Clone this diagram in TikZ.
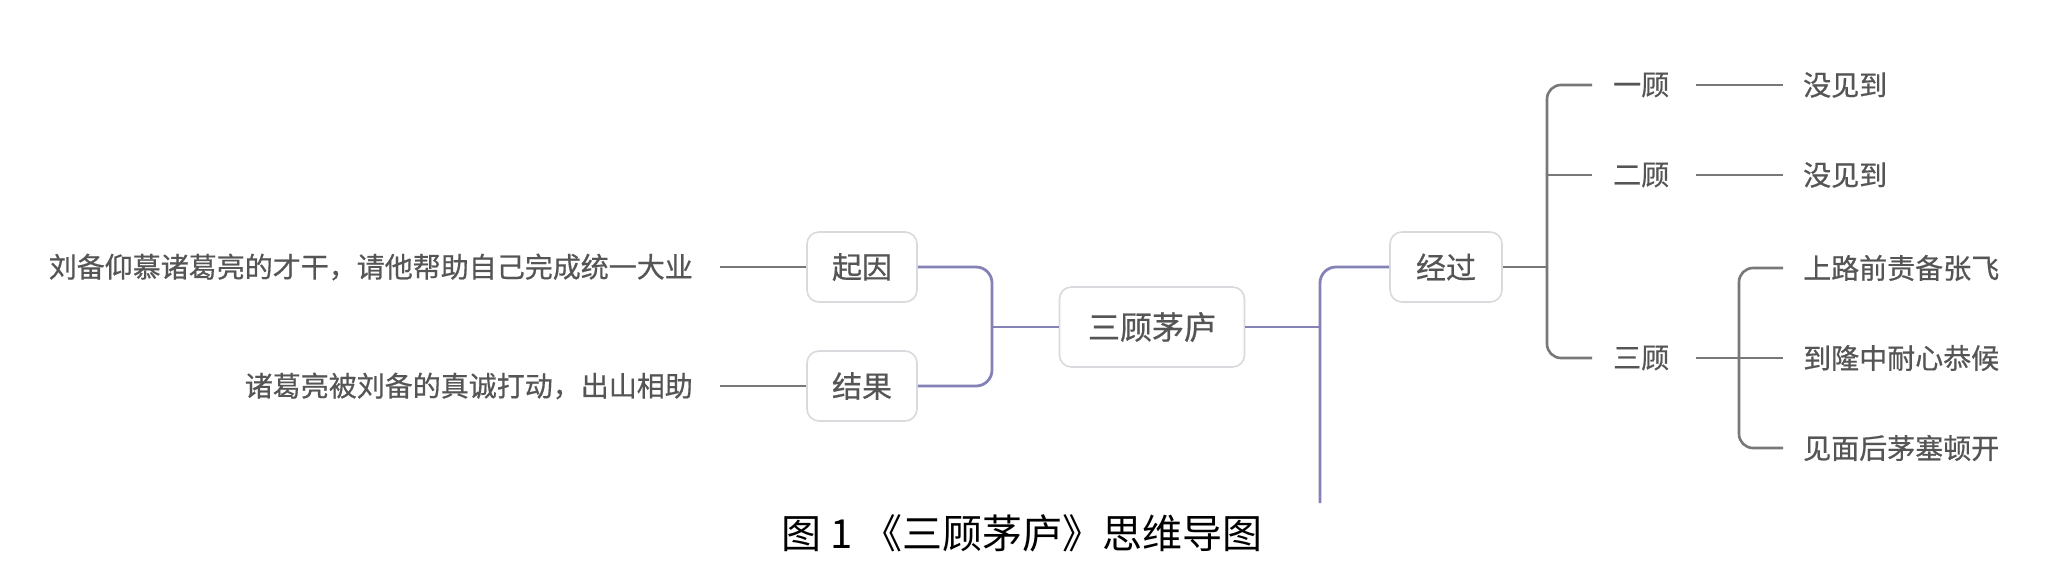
\documentclass[tikz,border=0pt]{standalone}
\usepackage{fontspec}
\setmainfont{Noto Sans CJK SC}
\newfontfamily\cjk[FakeBold=0.6]{Noto Sans CJK SC}
\newfontfamily\capfont{Noto Sans CJK SC}
\definecolor{boxline}{RGB}{218,218,222}
\definecolor{txt}{RGB}{85,85,85}
\definecolor{purp}{RGB}{132,130,182}
\definecolor{grayline}{RGB}{120,120,120}
\tikzset{
  topicbox/.style={draw=boxline, line width=1.6pt, rounded corners=12pt, fill=white,
    text=txt, font=\cjk\fontsize{30}{34}\selectfont, minimum width=110pt, minimum height=70pt, inner sep=0pt},
  rootbox/.style={topicbox, font=\cjk\fontsize{32}{36}\selectfont, minimum width=185pt, minimum height=80pt},
  leaf/.style={text=txt, font=\cjk\fontsize{28}{32}\selectfont, inner ysep=0pt},
  plink/.style={draw=purp, line width=2.8pt},
  glink/.style={draw=grayline, line width=2.6pt},
}
\begin{document}
\begin{tikzpicture}[x=1pt,y=-1pt]
\useasboundingbox[fill=white] (0,0) rectangle (2049,581);

% main nodes
\node[rootbox] (root) at (1152,327) {三顾茅庐};
\node[topicbox] (qiyin) at (862,267) {起因};
\node[topicbox] (jieguo) at (862,386) {结果};
\node[topicbox, minimum width=112pt] (jingguo) at (1446,267) {经过};

% left leaves
\node[leaf, anchor=east, inner xsep=27pt] (t1) at (720,267) {刘备仰慕诸葛亮的才干，请他帮助自己完成统一大业};
\node[leaf, anchor=east, inner xsep=27pt] (t2) at (720,386) {诸葛亮被刘备的真诚打动，出山相助};

% visits
\node[leaf, anchor=west, inner xsep=21pt] (g1) at (1592,85) {一顾};
\node[leaf, anchor=west, inner xsep=21pt] (g2) at (1592,175) {二顾};
\node[leaf, anchor=west, inner xsep=21pt] (g3) at (1592,358) {三顾};

\node[leaf, anchor=west, inner xsep=20pt] (m1) at (1783,85) {没见到};
\node[leaf, anchor=west, inner xsep=20pt] (m2) at (1783,175) {没见到};
\node[leaf, anchor=west, inner xsep=20pt] (c1) at (1783,268) {上路前责备张飞};
\node[leaf, anchor=west, inner xsep=20pt] (c2) at (1783,358) {到隆中耐心恭候};
\node[leaf, anchor=west, inner xsep=20pt] (c3) at (1783,448) {见面后茅塞顿开};

% junction coordinates
\coordinate (jl) at (992,327);
\coordinate (jr) at (1320,327);
\coordinate (jd) at (1320,503);
\coordinate (jg) at (1547,267);
\coordinate (js) at (1739,358);

% connectors
\draw[glink] (t1.east) -- (qiyin.west);
\draw[glink] (t2.east) -- (jieguo.west);
\draw[plink, rounded corners=16pt] (qiyin.east) -| (jl);
\draw[plink, rounded corners=16pt] (jieguo.east) -| (jl);
\draw[plink] (jl) -- (root.west);
\draw[plink] (root.east) -- (jr);
\draw[plink, rounded corners=16pt] (jingguo.west) -| (jd);

\draw[glink] (jingguo.east) -- (jg);
\draw[glink, rounded corners=14pt] (g1.west) -| (jg) |- (g3.west);
\draw[glink] (g2.west) -- (g2.west -| jg);
\draw[glink, shorten <=6pt] (g1.east) -- (m1.west);
\draw[glink, shorten <=6pt] (g2.east) -- (m2.west);
\draw[glink, shorten <=6pt] (g3.east) -- (c2.west);
\draw[glink, rounded corners=14pt] (c1.west) -| (js) |- (c3.west);

% caption
\node[font=\capfont\fontsize{40}{44}\selectfont, text=black] (cap) at (1022,533) {图 1 《三顾茅庐》思维导图};
\end{tikzpicture}
\end{document}
